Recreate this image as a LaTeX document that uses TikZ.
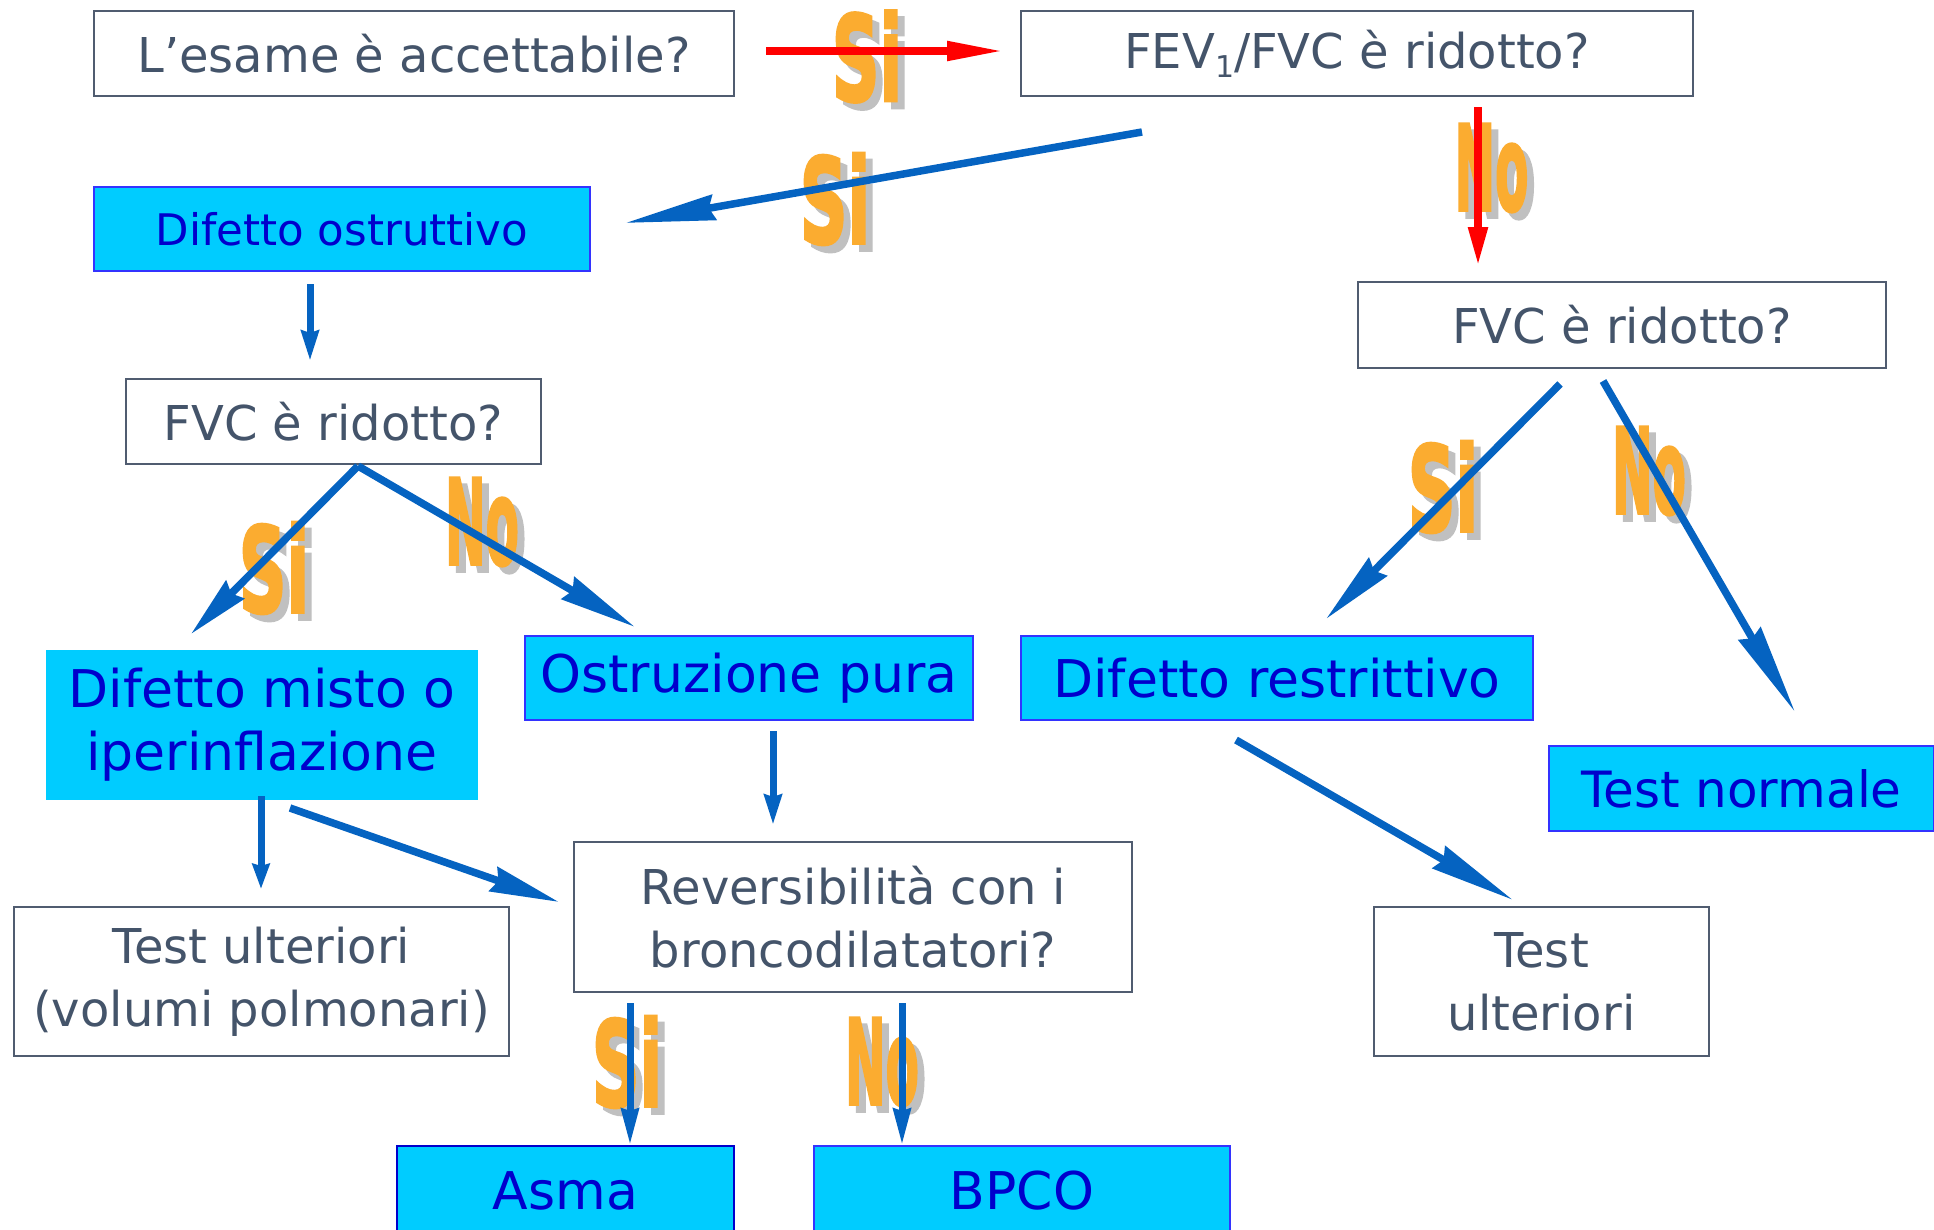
\documentclass[tikz,border=0pt]{standalone}
\usepackage{fontspec}
\usepackage{graphicx}
\setmainfont{DejaVu Sans}
\newfontfamily\labfont{DejaVu Sans}[BoldFeatures={FakeBold=3}]
\usetikzlibrary{arrows.meta}
\definecolor{txtgray}{RGB}{68,84,106}
\definecolor{boxgray}{RGB}{80,92,112}
\definecolor{txtblue}{RGB}{0,0,204}
\definecolor{cyanfill}{RGB}{0,204,255}
\definecolor{boxblue}{RGB}{51,51,255}
\definecolor{arrblue}{RGB}{5,99,193}
\definecolor{labor}{RGB}{251,172,48}
\definecolor{labsh}{RGB}{192,192,192}
\begin{document}
\begin{tikzpicture}[x=1pt,y=-1pt,
  graybox/.style={draw=boxgray, line width=2pt, fill=white, text=txtgray, inner sep=0pt, align=center, font=\fontsize{48}{63}\selectfont},
  bluebox/.style={draw=boxblue, line width=2.5pt, fill=cyanfill, text=txtblue, inner sep=0pt, align=center, font=\fontsize{52}{63}\selectfont},
  sz/.style 2 args={minimum width=#1pt, minimum height=#2pt},
  lab/.style={text=labor, inner sep=0pt, font=\labfont\fontsize{118}{118}\selectfont\bfseries},
  labshadow/.style={text=labsh, inner sep=0pt, font=\labfont\fontsize{118}{118}\selectfont\bfseries},
  redarr/.style={draw=red, line width=8pt, -{Triangle[length=#1, width=18pt]}},
  bluearr/.style={draw=arrblue, line width=7.5pt, -{Stealth[length=#1, width=25pt, inset=5pt]}},
  vblue/.style={draw=arrblue, line width=7pt, -{Stealth[length=#1, width=17pt, inset=2pt]}}
]
\useasboundingbox (0,0) rectangle (1934,1229);
\fill[white] (0,0) rectangle (1934,1229);

% boxes
\node[graybox, sz={640}{85}] (acc) at (414,53.5) {L’esame è accettabile?};
\node[graybox, sz={672}{85}] (fev) at (1357,53.5) {FEV\raisebox{-9pt}{\fontsize{30}{30}\selectfont 1}/FVC è ridotto?};
\node[bluebox, sz={496}{84}, font=\fontsize{43.5}{50}\selectfont] (ostr) at (342,229) {Difetto ostruttivo};
\node[graybox, sz={415}{85}] (fvcL) at (333.5,421.5) {FVC è ridotto?};
\node[graybox, sz={528}{86}] (fvcR) at (1622,325) {FVC è ridotto?};
\node[bluebox, sz={432}{150}, draw=none] (misto) at (262,725) {Difetto misto o\\iperinflazione};
\node[bluebox, sz={448}{84}] (pura) at (749,678) {Ostruzione pura};
\node[bluebox, sz={512}{84}] (restr) at (1277,678) {Difetto restrittivo};
\node[bluebox, sz={385}{85}, font=\fontsize{50}{60}\selectfont] (normale) at (1741.5,788.5) {Test normale};
\node[graybox, sz={558}{150}] (rev) at (853,917) {Reversibilità con i\\broncodilatatori?};
\node[graybox, sz={495}{149}] (testL) at (261.5,981.5) {Test ulteriori\\(volumi polmonari)};
\node[graybox, sz={335}{149}] (testR) at (1541.5,981.5) {Test\\ulteriori};
\node[bluebox, sz={337}{90}, draw=txtblue] (asma) at (565.5,1191) {Asma};
\node[bluebox, sz={416}{90}] (bpco) at (1022,1191) {BPCO};

% Si / No labels (shadow first)
\node[labshadow] (siA-s) at (874,63.5) {\scalebox{0.56}[1]{Si}};
\node[lab] (siA) at (867,56.5) {\scalebox{0.56}[1]{Si}};
\node[labshadow] (siB-s) at (842,206) {\scalebox{0.56}[1]{Si}};
\node[lab] (siB) at (835,199) {\scalebox{0.56}[1]{Si}};
\node[labshadow] (noA-s) at (1498.5,175) {\scalebox{0.41}[1]{No}};
\node[lab] (noA) at (1491.5,168) {\scalebox{0.41}[1]{No}};
\node[labshadow] (siC-s) at (281,575) {\scalebox{0.56}[1]{Si}};
\node[lab] (siC) at (274,568) {\scalebox{0.56}[1]{Si}};
\node[labshadow] (noB-s) at (489,529) {\scalebox{0.41}[1]{No}};
\node[lab] (noB) at (482,522) {\scalebox{0.41}[1]{No}};
\node[labshadow] (siD-s) at (1450,494) {\scalebox{0.56}[1]{Si}};
\node[lab] (siD) at (1443,487) {\scalebox{0.56}[1]{Si}};
\node[labshadow] (noC-s) at (1656,478) {\scalebox{0.41}[1]{No}};
\node[lab] (noC) at (1649,471) {\scalebox{0.41}[1]{No}};
\node[labshadow] (siE-s) at (634,1069) {\scalebox{0.56}[1]{Si}};
\node[lab] (siE) at (627,1062) {\scalebox{0.56}[1]{Si}};
\node[labshadow] (noD-s) at (889,1069) {\scalebox{0.41}[1]{No}};
\node[lab] (noD) at (882,1062) {\scalebox{0.41}[1]{No}};

% arrow end points
\coordinate (r1s) at (766,51);   \coordinate (r1e) at (1005,51);
\coordinate (r2s) at (1478,107); \coordinate (r2e) at (1478,267);
\coordinate (b1s) at (1142,132); \coordinate (b1e) at (625,223);
\coordinate (b2s) at (310,284);  \coordinate (b2e) at (310,361);
\coordinate (b3s) at (358,466);  \coordinate (b3e) at (191,634);
\coordinate (b4e) at (635,627);
\coordinate (b5s) at (1560,384); \coordinate (b5e) at (1326,619);
\coordinate (b6s) at (1603,381); \coordinate (b6e) at (1795,712);
\coordinate (b7s) at (773,731);  \coordinate (b7e) at (773,825);
\coordinate (b8s) at (261,796);  \coordinate (b8e) at (261,889);
\coordinate (b9s) at (290,808);  \coordinate (b9e) at (559,902);
\coordinate (b10s) at (1236,740); \coordinate (b10e) at (1513,900);
\coordinate (b11s) at (630,1003); \coordinate (b11e) at (630,1145);
\coordinate (b12s) at (902,1003); \coordinate (b12e) at (902,1145);

% arrows
\draw[redarr=58pt] (r1s) -- (r1e);
\draw[redarr=40pt] (r2s) -- (r2e);
\draw[bluearr=90pt] (b1s) -- (b1e);
\draw[vblue=30pt] (b2s) -- (b2e);
\draw[bluearr=62pt] (b3s) -- (b3e);
\draw[bluearr=77pt] (b3s) -- (b4e);
\draw[bluearr=73pt] (b5s) -- (b5e);
\draw[bluearr=90pt] (b6s) -- (b6e);
\draw[vblue=30pt] (b7s) -- (b7e);
\draw[vblue=25pt] (b8s) -- (b8e);
\draw[bluearr=69pt] (b9s) -- (b9e);
\draw[bluearr=85pt] (b10s) -- (b10e);
\draw[vblue=36pt] (b11s) -- (b11e);
\draw[vblue=36pt] (b12s) -- (b12e);
\end{tikzpicture}
\end{document}
